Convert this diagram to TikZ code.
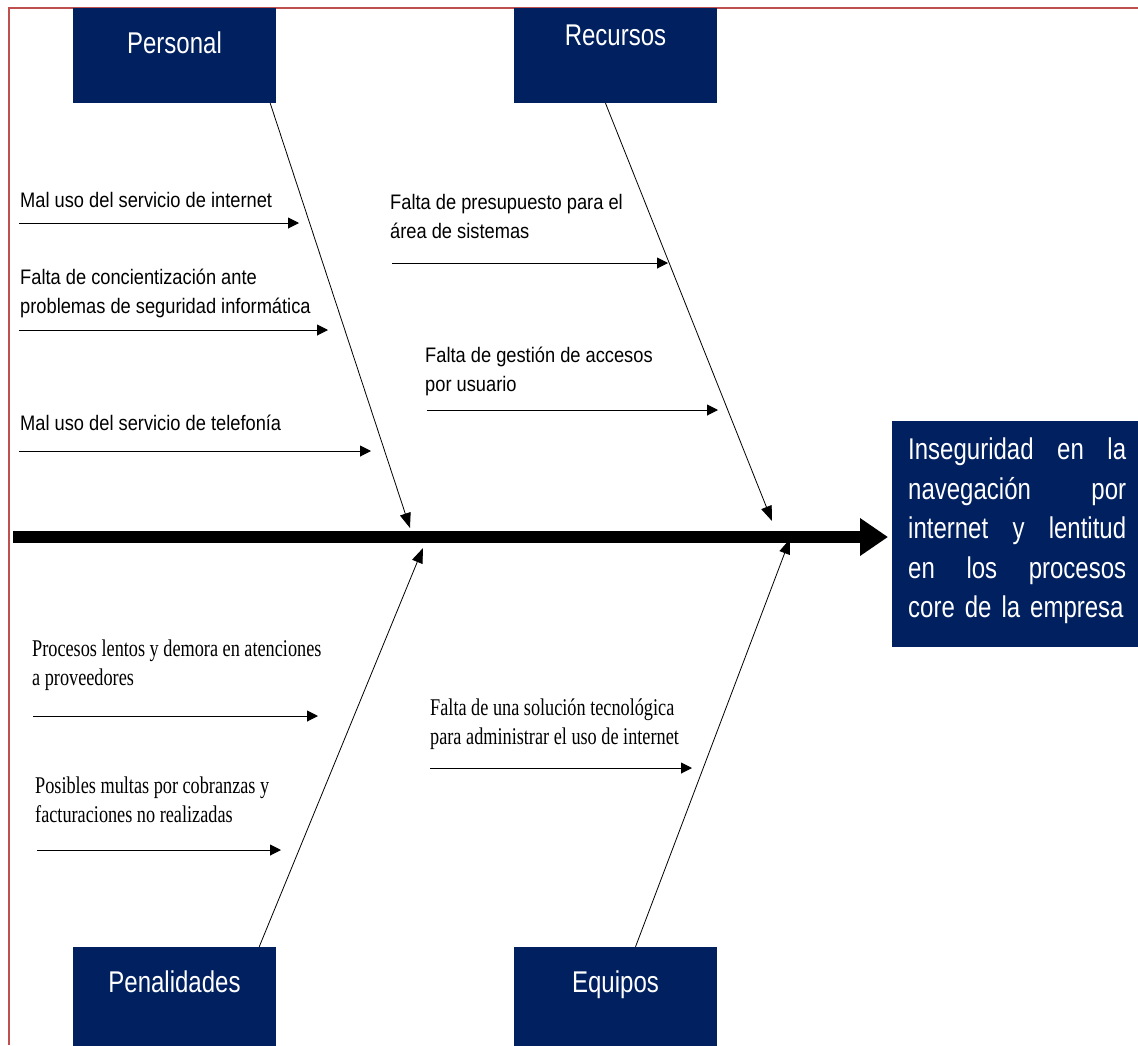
\documentclass[tikz,border=0pt]{standalone}
\usepackage{fontspec}
\setmainfont{Liberation Sans}
\newfontfamily\causefont[FakeStretch=0.87]{Liberation Sans}
\newfontfamily\causeserif[FakeStretch=0.76]{Liberation Serif}
\newfontfamily\boxfont[FakeStretch=0.8]{Liberation Sans}
\usetikzlibrary{arrows.meta}
\definecolor{navy}{RGB}{0,32,96}
\definecolor{framered}{RGB}{192,80,77}

\begin{document}
\begin{tikzpicture}[x=1pt,y=-1pt,
    cat/.style={fill=navy,text=white,inner sep=0pt,minimum width=203pt,anchor=base,
      font=\boxfont\fontsize{30}{30}\selectfont},
    cause/.style={anchor=base west,align=left,inner sep=0pt,
      font=\causefont\fontsize{21}{29}\selectfont},
    serifcause/.style={cause,font=\causeserif\fontsize{24}{29}\selectfont},
    bone/.style={line width=.8pt,-{Triangle[length=15pt,width=11pt]}},
    sub/.style={line width=1pt,-{Triangle[length=11pt,width=11pt]}},
    spine/.style={line width=12pt,-{Triangle[length=28pt,width=36pt]}}]
      \useasboundingbox (0,0) rectangle (1138,1045);
      \draw[framered,line width=2pt] (9,1045) -- (9,8) -- (1138,8);
      % categories
      \node[cat,text height=45pt,text depth=50pt] (personal) at (174.5,53) {Personal};
      \node[cat,text height=37pt,text depth=58pt] (recursos) at (615.5,45) {Recursos};
      \node[cat,text height=45pt,text depth=60pt] (penalidades) at (174.5,992) {Penalidades};
      \node[cat,text height=45pt,text depth=60pt] (equipos) at (615.5,992) {Equipos};
      \node[fill=navy,text=white,anchor=north west,minimum height=226pt,inner xsep=16pt,
        text width=218pt,align=left,font=\boxfont\fontsize{30}{39.5}\selectfont]
        (efecto) at (892,421) {Inseguridad\hfill en\hfill la\\
        navegación\hfill por\\
        internet\hfill y\hfill lentitud\\
        en\hfill los\hfill procesos\\
        core de la empresa\par\vspace{6pt}};
      % spine and bones
      \coordinate (tail) at (13,537);
      \draw[spine,shorten >=4pt] (tail) -- (tail -| efecto.west);
      \coordinate (jp) at (410,528);
      \coordinate (jr) at (772,521);
      \coordinate (jpe) at (423,548);
      \coordinate (je) at (790,539);
      \draw[bone] ([xshift=-6pt]personal.south east) -- (jp);
      \draw[bone] ([xshift=-10pt]recursos.south) -- (jr);
      \draw[bone] ([xshift=-17pt]penalidades.north east) -- (jpe);
      \draw[bone] ([xshift=20pt]equipos.north) -- (je);
      % causes
      \node[cause] (ca) at (20,207) {Mal uso del servicio de internet};
      \node[cause] (cb) at (20,313) {Falta de concientización ante\\problemas de seguridad informática};
      \node[cause] (cc) at (20,430) {Mal uso del servicio de telefonía};
      \node[cause] (cd) at (390,238) {Falta de presupuesto para el\\área de sistemas};
      \node[cause] (ce) at (425,391) {Falta de gestión de accesos\\por usuario};
      \node[serifcause] (cf) at (32,685) {Procesos lentos y demora en atenciones\\a proveedores};
      \node[serifcause] (cg) at (35,822) {Posibles multas por cobranzas y\\facturaciones no realizadas};
      \node[serifcause] (ch) at (430,744) {Falta de una solución tecnológica\\para administrar el uso de internet};
      \foreach \n/\xa/\xb/\y in {a/19/299/223, b/19/328/330, c/19/371/451, d/392/668/263,
          e/427/718/410, f/33/318/716, g/37/281/850, h/430/692/768} {
        \draw[sub] (\xa,\y) coordinate (\n0) -- (\xb,\y) coordinate (\n1);
      }
\end{tikzpicture}
\end{document}
